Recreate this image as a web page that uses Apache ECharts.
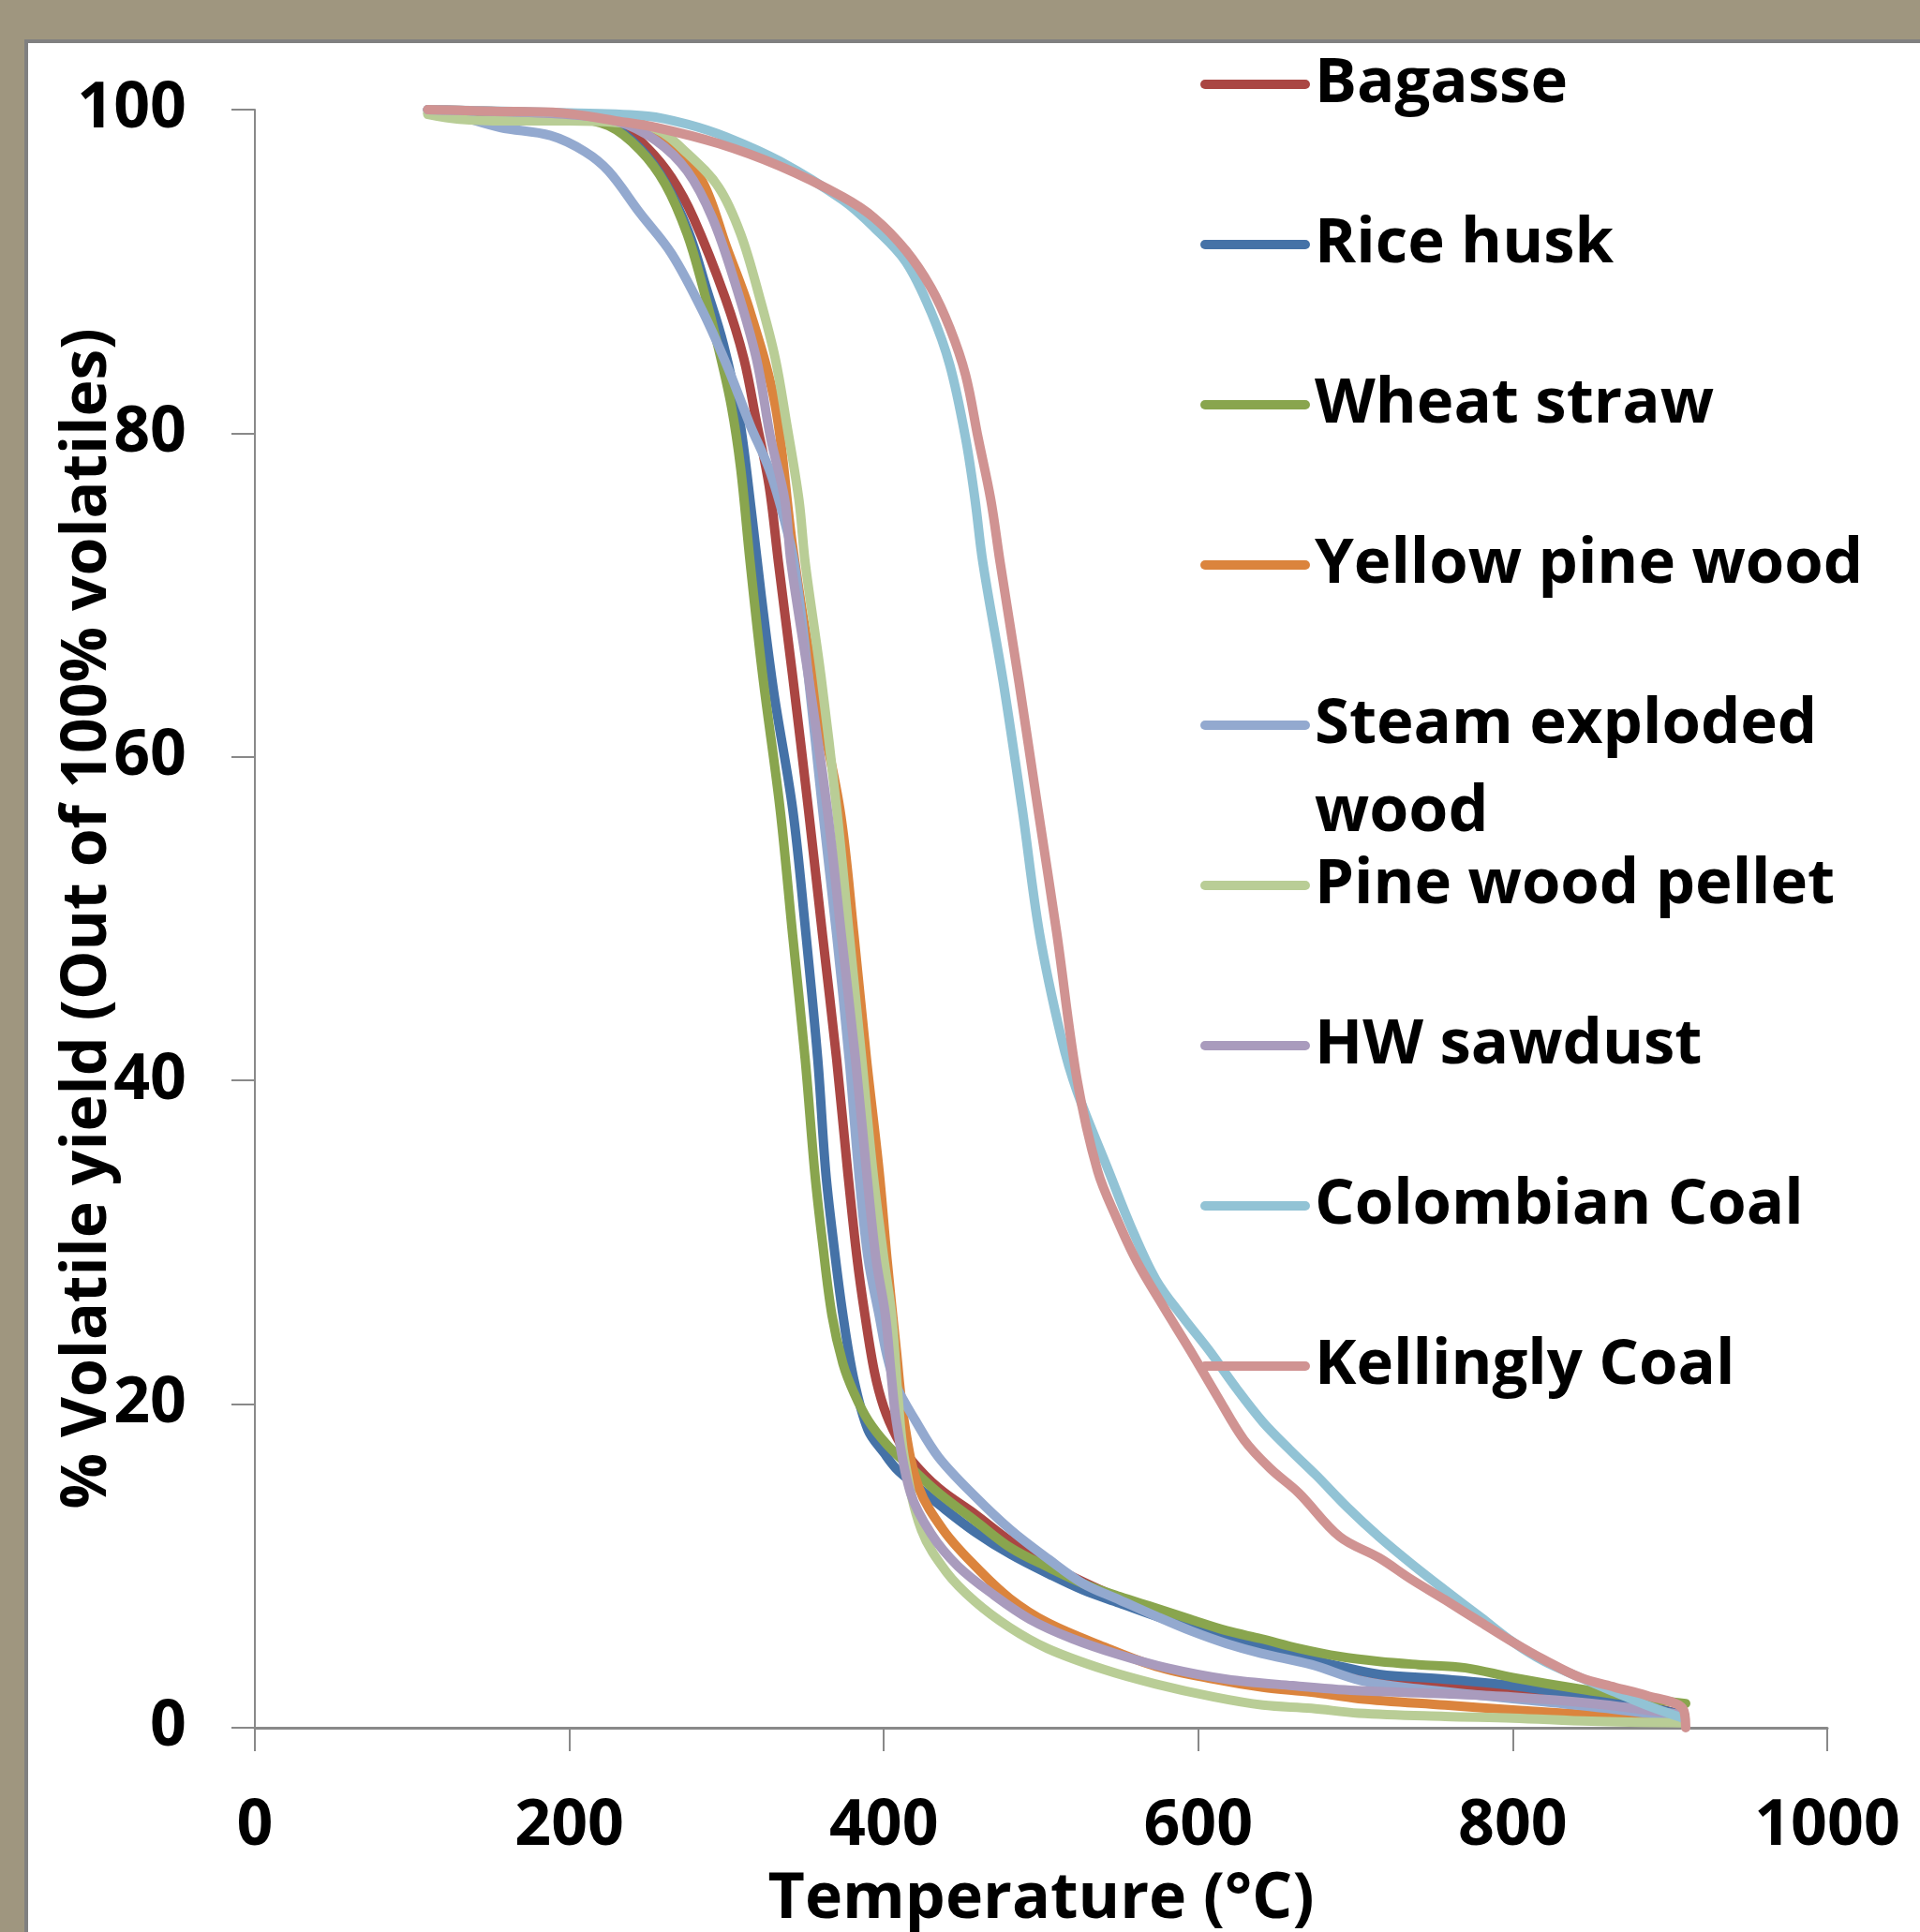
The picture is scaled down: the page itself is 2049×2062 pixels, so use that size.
<!DOCTYPE html>
<html>
<head>
<meta charset="utf-8">
<title>Volatile yield</title>
<script src="https://cdn.jsdelivr.net/npm/echarts@6/dist/echarts.min.js"></script>
<style>
    html, body { margin: 0; padding: 0; }
    #main { width: 2049px; height: 2062px; }
</style>
</head>
<body>
<div id="main"></div>
<script>
// values: [temperature degC, % volatile yield]
const seriesNames = ['Bagasse', 'Rice husk', 'Wheat straw', 'Yellow pine wood', 'Steam exploded wood',
    'Pine wood pellet', 'HW sawdust', 'Colombian Coal', 'Kellingly Coal'];

const xTicks = [0, 200, 400, 600, 800, 1000];
const yTicks = [0, 20, 40, 60, 80, 100];

const bagasse = [[110,100],[160,99.8],[200,99.6],[230,99.2],[250,97.6],[265,95.8],[279,93.3],[299,88.4],[311,84.6],[319,80.7],[327,76.8],[333,72],[342,65],[352,56.8],[361,49],[370,41.3],[377,34.4],[383,29],[388,25.5],[394,22],[400,19.8],[408,18],[417,16.6],[435,14.8],[458,13.2],[481,11.5],[505,10.1],[527,9.0],[550,8.0],[573,7.1],[595,6.4],[618,5.7],[640,5.1],[664,4.5],[690,3.6],[715,2.9],[757,2.5],[800,2.2],[842,1.9],[885,1.3],[908,0.8]];

const riceHusk = [[110,100],[160,99.8],[200,99.6],[225,99.1],[245,97.6],[261,95.5],[276,92.4],[287,89],[298,85.5],[308,81],[316,75],[322,70],[330,64],[342,56.8],[350,49.5],[358,41.3],[363,34.4],[368,30],[374,25.5],[381,21.5],[390,18.4],[400,17],[408,16],[420,15],[435,13.8],[458,12.1],[481,10.7],[505,9.5],[527,8.5],[550,7.7],[573,6.9],[595,6.2],[618,5.6],[640,5.0],[664,4.4],[690,3.8],[715,3.3],[757,3.0],[800,2.6],[842,2.0],[885,1.3],[908,0.8]];

const wheatStraw = [[110,99.8],[150,99.6],[200,99.5],[225,99],[245,97.5],[261,95.4],[275,92.3],[285,89],[295,85.2],[303,81.7],[309,77.8],[315,72],[323,65],[334,56.8],[342,49],[350,41.3],[356,34.4],[361,30],[367,25.5],[374,22.5],[381,20.7],[390,19],[402,17.5],[418,16],[435,14.5],[458,12.8],[481,11.1],[505,9.9],[527,8.9],[550,8.1],[573,7.4],[595,6.7],[618,6.0],[640,5.5],[664,4.9],[690,4.4],[715,4.1],[740,3.9],[770,3.7],[800,3.1],[842,2.4],[885,1.8],[910,1.5]];

const yellowPine = [[110,100],[200,99.7],[240,99.3],[265,98],[285,95.5],[300,91.5],[315,87.5],[331,81.7],[342,73],[355,65],[372,56.8],[381,49],[389,41.3],[397,34.4],[402,29],[408,23.3],[413,18.9],[422,14.9],[438,12.2],[458,10],[480,8],[504,6.5],[540,5],[573,3.8],[610,3.0],[641,2.5],[672,2.2],[702,1.8],[757,1.4],[800,1.1],[850,0.8],[908,0.5]];

const steamExploded = [[110,100],[130,99.6],[156,98.9],[188,98.4],[210,97.4],[225,96.2],[245,93.6],[265,91.1],[285,87.5],[301,84],[315,80.5],[327,77.8],[336,74.9],[343,72],[352,65],[361,56.8],[370,49],[378,41.3],[384,34.4],[390,29],[397,25.5],[402,23],[408,21.1],[420,19],[435,16.7],[458,14.3],[481,12.2],[505,10.4],[527,8.9],[550,7.9],[573,6.9],[595,6.0],[618,5.2],[640,4.6],[672,3.9],[704,2.9],[740,2.4],[780,2.0],[820,1.6],[860,1.2],[908,0.6]];

const pineWoodPellet = [[110,99.7],[130,99.4],[160,99.3],[200,99.3],[230,99.2],[255,98.8],[275,97.3],[295,95.2],[309,92.3],[321,88.4],[331,84.6],[338,80.7],[346,75.9],[350,72],[360,65],[370,56.8],[378,49],[386,41.3],[393,34.4],[400,29],[405,25.5],[409,20.5],[413,16.7],[424,12.2],[440,9.6],[458,7.8],[480,6.2],[504,4.9],[540,3.6],[573,2.7],[610,1.9],[641,1.4],[672,1.2],[702,0.9],[757,0.7],[800,0.6],[850,0.4],[908,0.3]];

const hwSawdust = [[110,100],[150,99.9],[200,99.7],[230,99.3],[255,98.1],[275,96.2],[291,93.3],[305,89.4],[319,84.6],[328,79.7],[337,75.9],[341,72],[352,65],[364,56.8],[373,49],[382,41.3],[389,34.4],[395,29],[401,25.5],[405,21.5],[408,18.9],[417,14.5],[430,12],[447,10],[470,8.2],[493,6.7],[520,5.5],[550,4.5],[580,3.7],[618,3.0],[660,2.6],[700,2.3],[757,2.1],[800,1.9],[850,1.5],[908,0.8]];

const colombianCoal = [[110,100],[200,99.8],[250,99.6],[275,99.1],[300,98.3],[334,96.8],[374,94.4],[394,92.7],[414,90.6],[430,87.5],[442,84.2],[452,79.7],[458,75.9],[463,72],[476,64.6],[488,56.8],[499,49.1],[513,42.6],[523,39.3],[543,34.4],[557,31],[573,27.7],[590,25.4],[607,23.3],[624,21],[641,18.9],[658,17.2],[675,15.6],[695,13.6],[715,11.8],[736,10.1],[757,8.5],[780,6.8],[800,5.3],[820,4.1],[843,3.1],[865,2.2],[885,1.4],[908,0.6]];

const kellinglyCoal = [[110,100],[150,99.9],[195,99.8],[230,99.3],[255,98.9],[295,97.9],[334,96.5],[374,94.6],[394,93.3],[414,91.3],[430,89],[442,86.5],[452,83.6],[460,79.7],[468,75.9],[474,72],[486,64.6],[498,56.8],[510,49.1],[523,40],[536,34.4],[548,31.5],[561,28.8],[578,26],[595,23.3],[612,20.5],[629,17.8],[646,16],[664,14.5],[690,11.8],[715,10.5],[735,9.2],[757,7.9],[780,6.5],[800,5.3],[820,4.2],[843,3.1],[865,2.5],[885,2.0],[908,1.2],[910,0]];

const seriesData = [bagasse, riceHusk, wheatStraw, yellowPine, steamExploded,
    pineWoodPellet, hwSawdust, colombianCoal, kellinglyCoal];

const colors = ['#AA4643', '#4572A7', '#89A54E', '#DB843D', '#93A9CF',
    '#B9CD96', '#A99BBD', '#92C3D5', '#D09392'];

const font = '"Open Sans", "Liberation Sans", sans-serif';

var dom = document.getElementById('main');
var myChart = echarts.init(dom, null, { renderer: 'canvas' });

var option = {
    animation: false,
    backgroundColor: '#9F967F',
    color: colors,
    textStyle: { fontFamily: font },
    graphic: [
        {
            // white chart panel with grey edge
            type: 'rect',
            z: -100,
            shape: { x: 28, y: 44, width: 2100, height: 2100 },
            style: { fill: '#ffffff', stroke: '#808080', lineWidth: 4 }
        },
        {
            // second line of the wrapped legend label
            type: 'text',
            z: 100,
            style: {
                text: 'wood',
                x: 1403,
                y: 868,
                verticalAlign: 'middle',
                fill: '#000',
                font: 'bold 68px ' + font
            }
        }
    ],
    grid: {
        left: 272,
        right: 99,
        top: 117,
        bottom: 218,
        containLabel: false,
        outerBoundsMode: 'none'
    },
    legend: {
        orient: 'vertical',
        left: 1281,
        top: 50,
        padding: 0,
        itemGap: 91,
        itemWidth: 117,
        itemHeight: 10,
        icon: 'path://M5 0H112A5 5 0 0 1 112 10H5A5 5 0 0 1 5 0Z',
        itemStyle: { borderWidth: 0 },
        data: seriesNames,
        formatter: function (name) {
            return name === 'Steam exploded wood' ? 'Steam exploded' : name;
        },
        textStyle: {
            fontFamily: font,
            fontWeight: 'bold',
            fontSize: 67,
            lineHeight: 80,
            color: '#000'
        }
    },
    xAxis: {
        type: 'value',
        min: 0,
        max: 1000,
        interval: 200,
        name: 'Temperature (°C)',
        nameLocation: 'middle',
        nameGap: 150,
        nameMoveOverlap: false,
        nameTextStyle: { fontFamily: font, fontWeight: 'bold', fontSize: 68, color: '#000' },
        splitLine: { show: false },
        axisLine: { show: true, lineStyle: { color: '#898989', width: 3 } },
        axisTick: { show: true, length: 25, lineStyle: { color: '#898989', width: 2 } },
        axisLabel: {
            margin: 72,
            fontFamily: font,
            fontWeight: 'bold',
            fontSize: 68,
            color: '#000',
            formatter: function (v) { return xTicks.indexOf(v) >= 0 ? String(v) : ''; }
        }
    },
    yAxis: {
        type: 'value',
        min: 0,
        max: 100,
        interval: 20,
        name: '% Volatile yield (Out of 100% volatiles)',
        nameLocation: 'middle',
        nameRotate: 90,
        nameGap: 145,
        nameMoveOverlap: false,
        nameTextStyle: { fontFamily: font, fontWeight: 'bold', fontSize: 66, color: '#000' },
        splitLine: { show: false },
        axisLine: { show: true, lineStyle: { color: '#898989', width: 2 } },
        axisTick: { show: true, length: 25, lineStyle: { color: '#898989', width: 2 } },
        axisLabel: {
            margin: 73,
            fontFamily: font,
            fontWeight: 'bold',
            fontSize: 68,
            color: '#000',
            formatter: function (v) { return yTicks.indexOf(v) >= 0 ? String(v) : ''; }
        }
    },
    series: seriesNames.map(function (name, i) {
        return {
            name: name,
            type: 'line',
            data: seriesData[i],
            showSymbol: false,
            symbol: 'none',
            smooth: 0.35,
            clip: false,
            lineStyle: { width: 10, color: colors[i], cap: 'round', join: 'round' },
            itemStyle: { color: colors[i] }
        };
    })
};

myChart.setOption(option);
window.addEventListener('resize', myChart.resize);
</script>
</body>
</html>
